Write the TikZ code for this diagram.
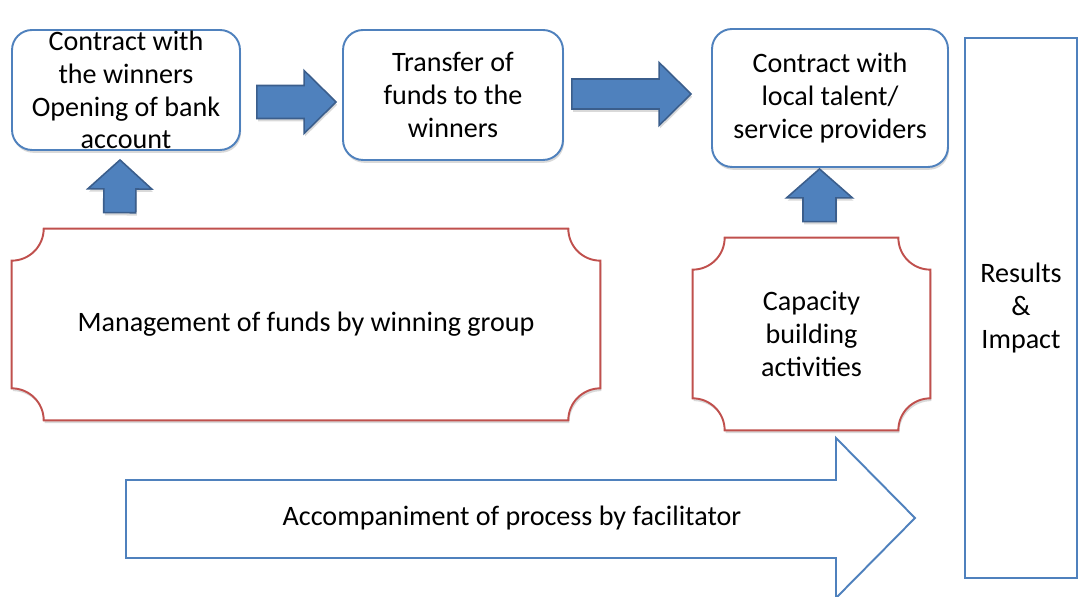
\documentclass[tikz,border=0pt]{standalone}
\usepackage{fontspec}
\setmainfont{Carlito}
\usepackage{tikz}
\usetikzlibrary{calc,shadows}
\definecolor{offblue}{HTML}{4F81BD}
\definecolor{offdark}{HTML}{3B5E8C}
\definecolor{offred}{HTML}{C0504D}
\pgfdeclarelayer{background}
\pgfsetlayers{background,main}
\tikzset{
  txt/.style={align=center, font=\fontsize{16}{18.7}\selectfont},
  shade/.style={drop shadow={shadow xshift=0.6pt, shadow yshift=-1.6pt, opacity=0.3}},
  box/.style={txt, draw=offblue, line width=1.1pt, fill=white, rounded corners=0.4cm, shade},
  plaquebox/.style={txt, inner sep=0pt},
  plaque/.style={draw=offred, line width=1.1pt, fill=white, shade},
  blockarrow/.style={draw=offdark, line width=0.9pt, fill=offblue, shade},
  result/.style={txt, draw=offblue, line width=1.1pt},
  bigarrow/.style={draw=offblue, line width=1.1pt, fill=white}
}
\newcommand{\plaqueoutline}[2]{
  \begin{pgfonlayer}{background}
  \draw[plaque] ($(#1.north west)+(#2,0)$) -- ($(#1.north east)-(#2,0)$)
    arc[start angle=180, end angle=270, radius=#2] -- ($(#1.south east)+(0,#2)$)
    arc[start angle=90, end angle=180, radius=#2] -- ($(#1.south west)+(#2,0)$)
    arc[start angle=0, end angle=90, radius=#2] -- ($(#1.north west)-(0,#2)$)
    arc[start angle=270, end angle=360, radius=#2] -- cycle;
  \end{pgfonlayer}
}
\newcommand{\blockarrow}[5]{
  \coordinate (ba-b) at ($(#2)!#5!(#1)$);
  \draw[blockarrow] ($(#1)!#3!90:(#2)$) -- ($(ba-b)!#3!90:(#2)$) -- ($(ba-b)!#4!90:(#2)$)
    -- (#2) -- ($(ba-b)!#4!-90:(#2)$) -- ($(ba-b)!#3!-90:(#2)$) -- ($(#1)!#3!-90:(#2)$) -- cycle;
}

\begin{document}
\begin{tikzpicture}[x=0.02cm, y=0.02cm]
  \useasboundingbox (0,0) rectangle (1079,597);

  \node[box, minimum width=4.56cm, minimum height=2.4cm, inner ysep=-4pt] (winners) at (126,507)
    {Contract with\\the winners\\Opening of bank\\account};
  \node[box, minimum width=4.4cm, minimum height=2.6cm] (transfer) at (453,502)
    {Transfer of\\funds to the\\winners};
  \node[box, minimum width=4.72cm, minimum height=2.76cm] (local) at (830,499)
    {Contract with\\local talent/\\service providers};
  \node[result, minimum width=2.24cm, minimum height=10.8cm] (results) at (1021,289)
    {Results\\\&\\Impact};

  \node[plaquebox, minimum width=11.76cm, minimum height=3.82cm] (mgmt) at (306,272.5)
    {Management of funds by winning group};
  \plaqueoutline{mgmt}{0.64cm}
  \node[plaquebox, minimum width=4.74cm, minimum height=3.84cm] (capacity) at (811.5,263)
    {Capacity\\building\\activities};
  \plaqueoutline{capacity}{0.64cm}

  \coordinate (a1s) at ($(winners.east)+(16,-12)$);
  \coordinate (a1e) at ($(transfer.west)+(-6,-7)$);
  \blockarrow{a1s}{a1e}{0.33cm}{0.63cm}{0.64cm}
  \coordinate (a2s) at ($(transfer.east)+(8,1)$);
  \coordinate (a2e) at ($(local.west)+(-20,4)$);
  \blockarrow{a2s}{a2e}{0.3cm}{0.63cm}{0.64cm}
  \coordinate (a3s) at ($(mgmt.north west)+(108,16)$);
  \coordinate (a3e) at ($(winners.south)+(-6,-9)$);
  \blockarrow{a3s}{a3e}{0.32cm}{0.64cm}{0.58cm}
  \coordinate (a4s) at ($(capacity.north)+(8,16)$);
  \coordinate (a4e) at ($(local.south)+(-10.5,-1)$);
  \blockarrow{a4s}{a4e}{0.33cm}{0.66cm}{0.58cm}

  \draw[bigarrow] (126,117) -- (836,117) -- (836,159) -- (915,79) -- (836,-1) -- (836,39) -- (126,39) -- cycle;
  \node[txt] (facil) at (512,79) {Accompaniment of process by facilitator};
\end{tikzpicture}
\end{document}
